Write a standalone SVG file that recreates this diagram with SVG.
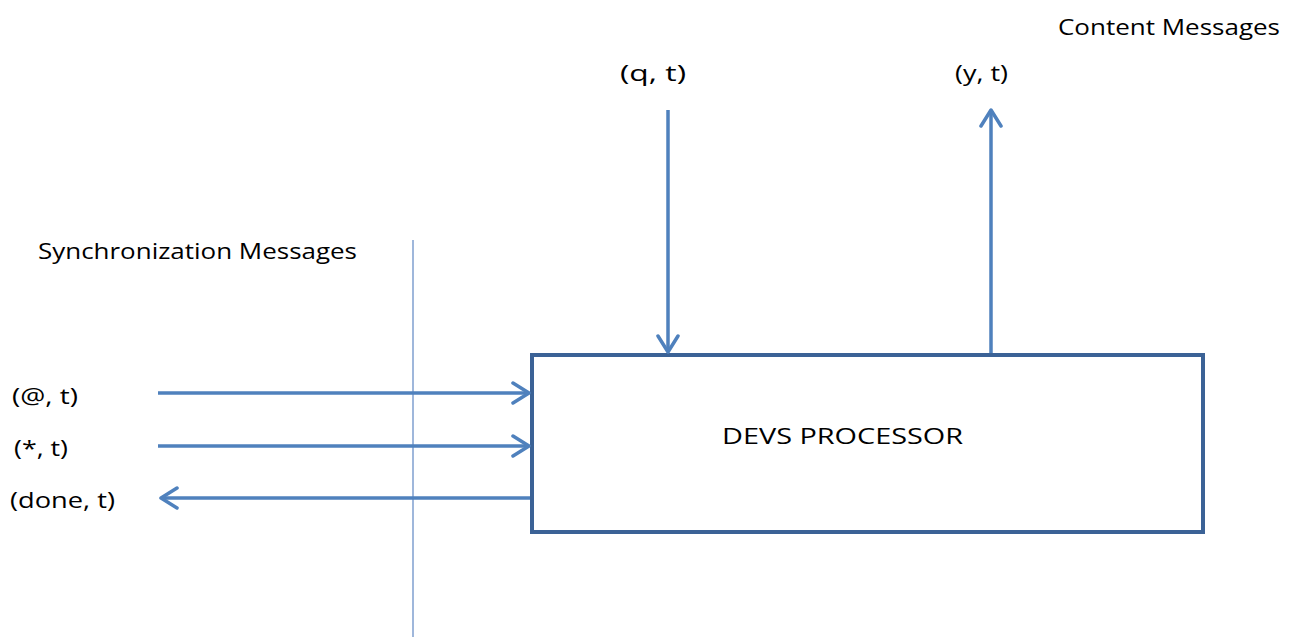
<svg xmlns="http://www.w3.org/2000/svg" width="1298" height="637" viewBox="0 0 1298 637">
<defs>
<style>
.t{font-family:"Open Sans","Liberation Sans",sans-serif;font-size:22px;fill:#000}
.a{stroke:#4F81BD;stroke-width:3.5;fill:none}
</style>
<marker id="ah" viewBox="0 0 20 24" refX="18" refY="12" markerWidth="20" markerHeight="24" markerUnits="userSpaceOnUse" orient="auto">
<polyline points="2,2 18,12 2,22" fill="none" stroke="#4F81BD" stroke-width="3.5" stroke-linecap="round" stroke-linejoin="round"/>
</marker>
</defs>
<rect width="1298" height="637" fill="#fff"/>
<line x1="413" y1="240" x2="413" y2="637" stroke="#7F9FCF" stroke-width="1.5"/>
<g id="processor">
<rect x="532" y="355" width="671" height="177" fill="#fff" stroke="#3B6296" stroke-width="4"/>
<text class="t" x="722" y="444" textLength="241" lengthAdjust="spacingAndGlyphs">DEVS PROCESSOR</text>
</g>
<g id="connectors">
<line class="a" x1="158" y1="393" x2="529" y2="393" marker-end="url(#ah)"/>
<line class="a" x1="158" y1="446" x2="529" y2="446" marker-end="url(#ah)"/>
<line class="a" x1="530" y1="498" x2="161" y2="498" marker-end="url(#ah)"/>
<line class="a" x1="668" y1="110" x2="668" y2="352" marker-end="url(#ah)"/>
<line class="a" x1="991" y1="353" x2="991" y2="110" marker-end="url(#ah)"/>
</g>
<g id="labels">
<text class="t" x="1058" y="35" textLength="222" lengthAdjust="spacingAndGlyphs">Content Messages</text>
<text class="t" x="620" y="81" textLength="66" lengthAdjust="spacingAndGlyphs">(q, t)</text>
<text class="t" x="955" y="81" textLength="53" lengthAdjust="spacingAndGlyphs">(y, t)</text>
<text class="t" x="38" y="259" textLength="319" lengthAdjust="spacingAndGlyphs">Synchronization Messages</text>
<text class="t" x="12" y="404" textLength="66" lengthAdjust="spacingAndGlyphs">(@, t)</text>
<text class="t" x="14" y="456" textLength="54" lengthAdjust="spacingAndGlyphs">(*, t)</text>
<text class="t" x="10" y="508" textLength="105" lengthAdjust="spacingAndGlyphs">(done, t)</text>
</g>
</svg>
